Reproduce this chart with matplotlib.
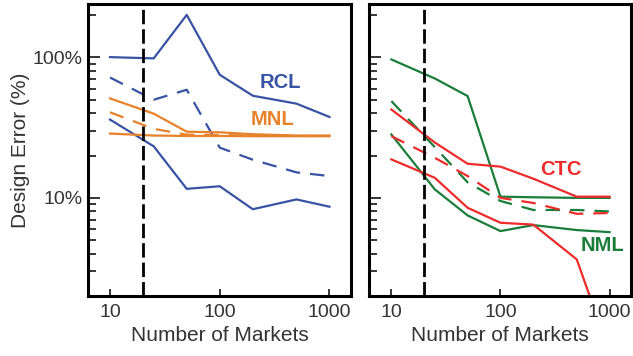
import matplotlib
matplotlib.use("Agg")
import matplotlib.pyplot as plt
from matplotlib.ticker import LogLocator, NullLocator, FuncFormatter

plt.rcParams['font.family'] = ['Liberation Sans', 'DejaVu Sans']

# number of markets
markets = [10, 25, 50, 100, 200, 500, 1000]

# left panel: RCL (blue) and MNL (orange), design error in %
rcl_hi = [100.6, 98.5, 201, 75.3, 53.4, 46.9, 37.7]
rcl_mid = [72, 50, 58.9, 22.8, 18.7, 15.2, 14.3]
rcl_lo = [36.1, 23.3, 11.6, 12.1, 8.3, 9.75, 8.65]

mnl_hi = [51.1, 39.8, 29.6, 29.3, 28.4, 27.8, 27.8]
mnl_mid = [40.7, 31.0, 28.2, 28.0, 27.8, 27.6, 27.6]
mnl_lo = [28.7, 27.8, 27.6, 27.6, 27.5, 27.5, 27.5]

# right panel: NML (green) and CTC (red)
nml_hi = [96.8, 70.9, 53.1, 10.2, 10.1, 10.0, 10.0]
nml_mid = [48.9, 23.0, 12.9, 9.5, 8.2, 8.2, 8.0]
nml_lo = [28.3, 11.5, 7.5, 5.8, 6.4, 5.9, 5.7]

ctc_hi = [42.6, 24.8, 17.5, 16.7, 13.7, 10.2, 10.2]
ctc_mid = [27.5, 19.3, 14.3, 10.0, 9.2, 7.7, 7.8]
ctc_lo = [18.8, 13.9, 8.5, 6.65, 6.45, 3.65, 0.8]

cutoff = 20

BLUE = '#3953a4'
ORANGE = '#e8822a'
GREEN = '#1b7d3a'
RED = '#ee2b2b'
TXT = '#333333'

fig = plt.figure(figsize=(6.33, 3.56), dpi=100)
ax1 = fig.add_axes([0.139, 0.1685, 0.4155, 0.820])
ax2 = fig.add_axes([0.5837, 0.1685, 0.413, 0.820])

dash = (6.5, 4.5)


def draw(ax, series, color):
    hi, mid, lo = series
    ax.plot(markets, hi, color=color, lw=1.6)
    ax.plot(markets, mid, color=color, lw=1.6, dashes=dash)
    ax.plot(markets, lo, color=color, lw=1.6)


draw(ax1, (rcl_hi, rcl_mid, rcl_lo), BLUE)
draw(ax1, (mnl_hi, mnl_mid, mnl_lo), ORANGE)
draw(ax2, (nml_hi, nml_mid, nml_lo), GREEN)
draw(ax2, (ctc_hi, ctc_mid, ctc_lo), RED)

ax1.text(353, 66, 'RCL', color=BLUE, fontsize=14.5, fontweight='bold',
         ha='center', va='center')
ax1.text(299, 36.4, 'MNL', color=ORANGE, fontsize=14.5, fontweight='bold',
         ha='center', va='center')
ax2.text(355, 16.0, 'CTC', color=RED, fontsize=14.5, fontweight='bold',
         ha='center', va='center')
ax2.text(861, 4.61, 'NML', color=GREEN, fontsize=14.5, fontweight='bold',
         ha='center', va='center')

for ax in (ax1, ax2):
    ax.axvline(cutoff, color='black', lw=2, dashes=(5.2, 1.8), zorder=5)
    ax.set_xscale('log')
    ax.set_yscale('log')
    ax.set_xlim(6.3, 1570)
    ax.set_ylim(2.0, 240)
    ax.xaxis.set_minor_locator(NullLocator())
    ax.set_xticks([10, 100, 1000])
    ax.xaxis.set_major_formatter(FuncFormatter(lambda v, p: f'{v:g}'))
    ax.yaxis.set_major_locator(LogLocator(base=10, numticks=10))
    ax.yaxis.set_minor_locator(LogLocator(base=10, subs=range(2, 10), numticks=10))
    ax.yaxis.set_major_formatter(FuncFormatter(lambda v, p: f'{v:g}%'))
    ax.tick_params(axis='x', which='major', direction='in', length=5,
                   width=1.1, labelsize=14, labelcolor=TXT, pad=6)
    ax.tick_params(axis='y', which='major', direction='in', length=8.5,
                   width=1.1, labelsize=14, labelcolor=TXT, pad=4)
    ax.tick_params(axis='y', which='minor', direction='in', length=6,
                   width=1.1)
    for s in ax.spines.values():
        s.set_linewidth(2.2)
        s.set_color('black')
    ax.set_xlabel('Number of Markets', fontsize=15, color=TXT, labelpad=3)

ax2.tick_params(axis='y', which='both', labelleft=False)
ax1.set_ylabel('Design Error (%)', fontsize=15, color=TXT, labelpad=2)

fig.savefig('out.png', dpi=100)
